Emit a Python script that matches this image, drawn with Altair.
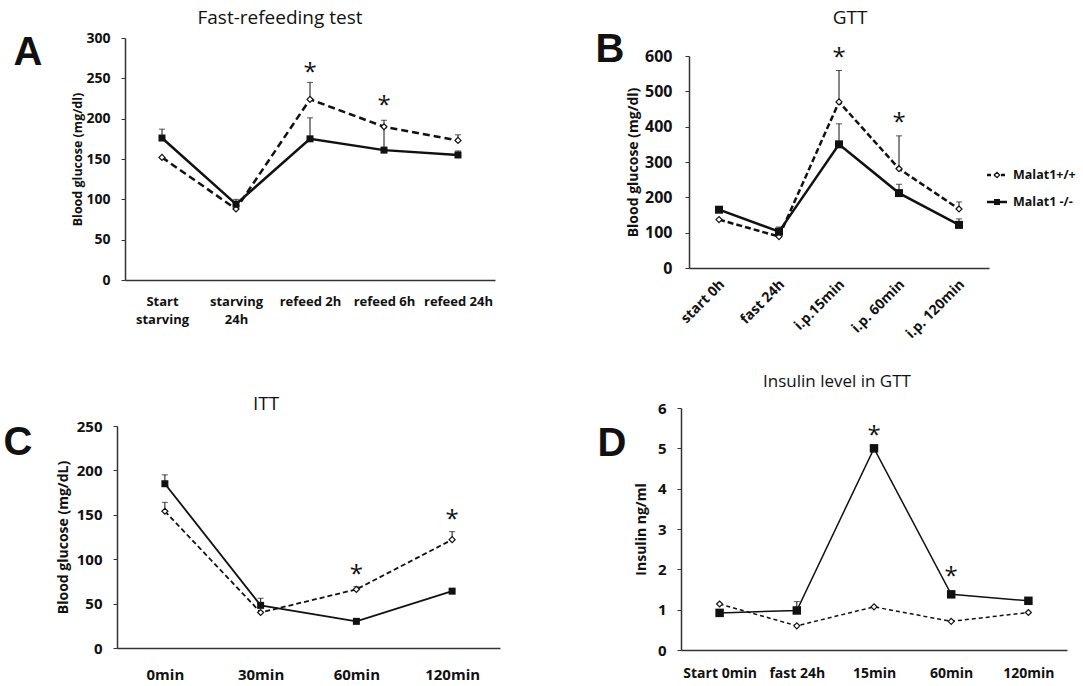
import altair as alt
import pandas as pd

# ---------------- data ----------------
GENO = ["Malat1+/+", "Malat1 -/-"]

# A: Fast-refeeding test
a_title = "Fast-refeeding test"
a_cats = ["Start|starving", "starving|24h", "refeed 2h", "refeed 6h", "refeed 24h"]
a_wt = [152, 88, 224, 190, 173]
a_wt_sem = [0, 0, 21, 8, 7]
a_ko = [176, 94, 175, 161, 155]
a_ko_sem = [11, 6, 26, 28, 5]
a_star_cats = ["refeed 2h", "refeed 6h"]
a_star_y = [264, 223]
a_yticks = [0, 50, 100, 150, 200, 250, 300]
a_ytitle = "Blood glucose (mg/dl)"

# B: GTT
b_title = "GTT"
b_cats = ["start 0h", "fast 24h", "i.p.15min", "i.p. 60min", "i.p. 120min"]
b_wt = [137, 89, 470, 281, 167]
b_wt_sem = [0, 0, 89, 93, 20]
b_ko = [165, 103, 350, 212, 122]
b_ko_sem = [0, 13, 58, 25, 17]
b_star_cats = ["i.p.15min", "i.p. 60min"]
b_star_y = [610, 426]
b_yticks = [0, 100, 200, 300, 400, 500, 600]
b_ytitle = "Blood glucose (mg/dl)"

# C: ITT
c_title = "ITT"
c_cats = ["0min", "30min", "60min", "120min"]
c_wt = [154, 40, 66, 122]
c_wt_sem = [10, 0, 3, 9]
c_ko = [185, 48, 30, 64]
c_ko_sem = [10, 8, 0, 0]
c_star_cats = ["60min", "120min"]
c_star_y = [89, 151]
c_yticks = [0, 50, 100, 150, 200, 250]
c_ytitle = "Blood glucose (mg/dL)"

# D: Insulin level in GTT
d_title = "Insulin level in GTT"
d_cats = ["Start 0min", "fast 24h", "15min", "60min", "120min"]
d_wt = [1.14, 0.60, 1.07, 0.71, 0.93]
d_wt_sem = [0, 0, 0, 0, 0]
d_ko = [0.92, 0.98, 5.0, 1.38, 1.22]
d_ko_sem = [0, 0.22, 0, 0, 0]
d_star_cats = ["15min", "60min"]
d_star_y = [5.46, 1.96]
d_yticks = [0, 1, 2, 3, 4, 5, 6]
d_ytitle = "Insulin ng/ml"

# ---------------- styling / layout ----------------
W, H = 1083, 686
FONT = "Open Sans"
INK = "#111111"
AXC = "#333333"


def make_panel(cats, wt, wt_sem, ko, ko_sem, star_cats, star_y, yticks, ytitle, cfg):
    rows = []
    for i, c in enumerate(cats):
        for g, vals, sems in ((GENO[0], wt, wt_sem), (GENO[1], ko, ko_sem)):
            rows.append({"cat": c, "idx": i, "geno": g, "v": vals[i],
                         "up": vals[i] + sems[i], "sem": sems[i]})
    df = pd.DataFrame(rows)
    stars = pd.DataFrame({"cat": star_cats, "v": star_y})

    x0, x1 = cfg["xr"]
    yb, yt = cfg["yr"]

    xkw = dict(orient="bottom", offset=yb - H, title=None, ticks=False, tickSize=0,
               domainColor=AXC, domainWidth=cfg["dw"], labelFont=FONT,
               labelFontWeight="bold", labelFontSize=cfg["xls"], labelColor=INK,
               labelPadding=cfg["xlp"], labelAngle=cfg.get("xang", 0),
               labelOverlap=False, labelLineHeight=18, grid=False,
               labelExpr="split(datum.label, '|')")
    if "xalign" in cfg:
        xkw["labelAlign"] = cfg["xalign"]
        xkw["labelBaseline"] = cfg["xbase"]
        xkw["labelOffset"] = cfg["xoff"]
    xax = alt.Axis(**xkw)
    yax = alt.Axis(orient="left", offset=-x0, values=yticks, title=ytitle,
                   titleX=cfg["ytx"] - x0, titleY=(yb + yt) / 2, titleAngle=270,
                   titleAlign="center", titleBaseline="middle", titleFont=FONT,
                   titleFontWeight="bold", titleFontSize=cfg["yts"], titleColor=INK,
                   grid=False, tickSize=4, tickColor=AXC, domainColor=AXC,
                   domainWidth=cfg["dw"], labelFont=FONT, labelFontWeight="bold",
                   labelFontSize=cfg["yls"], labelColor=INK, labelPadding=cfg["ylp"],
                   labelOverlap=False, labelFlush=False)
    xs = alt.Scale(type="point", padding=0.5, range=[x0, x1])
    ys = alt.Scale(domain=cfg["dom"], range=[yb, yt], nice=False, zero=False)

    def X():
        return alt.X("cat:N", sort=cats, scale=xs, axis=xax)

    def Y(f):
        return alt.Y(f"{f}:Q", scale=ys, axis=yax)

    base = alt.Chart(df)
    err = base.transform_filter(alt.datum.sem > 0).mark_rule(
        color=INK, strokeWidth=1).encode(x=X(), y=Y("v"), y2="up:Q")
    cap = base.transform_filter(alt.datum.sem > 0).mark_tick(
        color=INK, thickness=1, size=6, orient="horizontal").encode(x=X(), y=Y("up"))
    line_wt = base.transform_filter(alt.datum.geno == GENO[0]).mark_line(
        color=INK, strokeWidth=cfg["lw"], strokeDash=cfg["dash"]).encode(
        x=X(), y=Y("v"), order=alt.Order("idx:Q"))
    line_ko = base.transform_filter(alt.datum.geno == GENO[1]).mark_line(
        color=INK, strokeWidth=cfg["lw"]).encode(
        x=X(), y=Y("v"), order=alt.Order("idx:Q"))
    pts_wt = base.transform_filter(alt.datum.geno == GENO[0]).mark_point(
        shape="diamond", filled=True, fill="white", stroke=INK, strokeWidth=1.2,
        size=cfg["ds"], opacity=1).encode(x=X(), y=Y("v"))
    pts_ko = base.transform_filter(alt.datum.geno == GENO[1]).mark_point(
        shape="square", filled=True, color=INK, size=cfg["ss"], opacity=1).encode(
        x=X(), y=Y("v"))
    star = alt.Chart(stars).mark_text(
        text="*", font=FONT, fontSize=24, color=INK, baseline="middle", dy=6).encode(
        x=X(), y=Y("v"))
    return alt.layer(err, cap, line_wt, line_ko, pts_wt, pts_ko, star)


pA = make_panel(a_cats, a_wt, a_wt_sem, a_ko, a_ko_sem, a_star_cats, a_star_y, a_yticks, a_ytitle,
                dict(xr=[125, 495], yr=[280, 38], dom=[0, 300], dw=1.5, xls=13, xlp=15,
                     yls=14, ylp=11, ytx=77, yts=12.5, lw=2.5, dash=[7, 4], ds=36, ss=49))
pB = make_panel(b_cats, b_wt, b_wt_sem, b_ko, b_ko_sem, b_star_cats, b_star_y, b_yticks, b_ytitle,
                dict(xr=[689, 989], yr=[268, 56], dom=[0, 600], dw=1.5, xls=14, xlp=14,
                     xang=-45, xalign="right", xbase="middle", xoff=3,
                     yls=16, ylp=13, ytx=633, yts=14, lw=2.5, dash=[6, 3], ds=36, ss=64))
pC = make_panel(c_cats, c_wt, c_wt_sem, c_ko, c_ko_sem, c_star_cats, c_star_y, c_yticks, c_ytitle,
                dict(xr=[117, 500], yr=[648, 426], dom=[0, 250], dw=1.5, xls=15, xlp=19,
                     yls=15, ylp=11, ytx=63, yts=14, lw=1.8, dash=[5, 3], ds=36, ss=49))
pD = make_panel(d_cats, d_wt, d_wt_sem, d_ko, d_ko_sem, d_star_cats, d_star_y, d_yticks, d_ytitle,
                dict(xr=[681, 1067], yr=[650, 408], dom=[0, 6], dw=1.5, xls=14, xlp=16,
                     yls=15, ylp=11, ytx=641, yts=14, lw=1.5, dash=[4, 3], ds=36, ss=72))


def label(txt, x, y, size, weight="normal", font=FONT):
    return alt.Chart(pd.DataFrame({"t": [txt]})).mark_text(
        font=font, fontSize=size, fontWeight=weight, color=INK, align="center",
        baseline="middle").encode(text="t:N", x=alt.value(x), y=alt.value(y))


titles = [
    label(a_title, 280, 18, 19),
    label(b_title, 850, 18, 19),
    label(c_title, 266, 404, 19),
    label(d_title, 837, 382, 17),
    label("A", 28, 53, 40, "bold", "Liberation Sans"),
    label("B", 610, 50, 40, "bold", "Liberation Sans"),
    label("C", 18, 443, 40, "bold", "Liberation Sans"),
    label("D", 612, 444, 40, "bold", "Liberation Sans"),
]

# legend (manual, next to panel B)
leg_df = pd.DataFrame({"g": GENO})
legend = []
for i, (yy, dashed) in enumerate(((175, True), (202, False))):
    d = leg_df.iloc[[i]]
    rule_kw = dict(color=INK, strokeWidth=2.5)
    if dashed:
        rule_kw["strokeDash"] = [4, 3]
    legend.append(alt.Chart(d).mark_rule(**rule_kw).encode(
        x=alt.value(987), x2=alt.value(1007), y=alt.value(yy)))
    if dashed:
        legend.append(alt.Chart(d).mark_point(shape="diamond", filled=True, fill="white",
                                              stroke=INK, strokeWidth=1.2, size=30, opacity=1).encode(
            x=alt.value(997), y=alt.value(yy)))
    else:
        legend.append(alt.Chart(d).mark_point(shape="square", filled=True, color=INK,
                                              size=36, opacity=1).encode(
            x=alt.value(997), y=alt.value(yy)))
    legend.append(alt.Chart(d).mark_text(font=FONT, fontSize=12.5, fontWeight="bold", color=INK,
                                         align="left", baseline="middle").encode(
        text="g:N", x=alt.value(1013), y=alt.value(yy)))

chart = alt.layer(pA, pB, pC, pD, *titles, *legend).resolve_scale(
    x="independent", y="independent").resolve_axis(
    x="independent", y="independent").properties(
    width=W, height=H, autosize=alt.AutoSizeParams(type="none"), padding=0,
    background="white").configure_view(stroke=None)

chart.save("out.html", embed_options={"renderer": "svg", "actions": False})
